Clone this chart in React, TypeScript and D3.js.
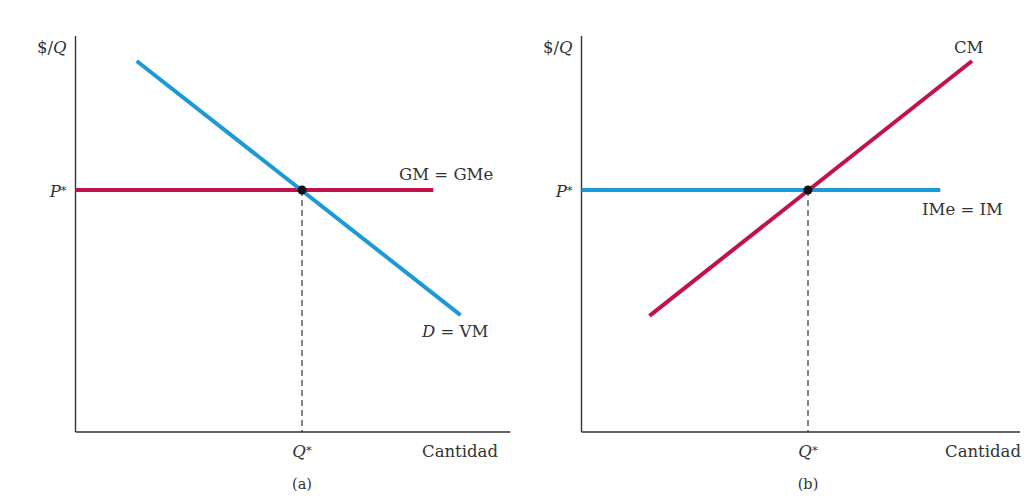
import React from "react";
import * as d3 from "d3";

// Equilibrium values (quantity Q*, price P*)
const qStar = 5;
const pStar = 6;

// Panel (a): demand for input D = VM and horizontal GM = GMe
const demandA = [
  { q: 1.35, p: 9.2 },
  { q: 8.5, p: 2.9 },
];
const supplyA = [
  { q: 0, p: 6 },
  { q: 7.9, p: 6 },
];

// Panel (b): rising CM and horizontal IMe = IM
const costB = [
  { q: 1.5, p: 2.88 },
  { q: 8.62, p: 9.2 },
];
const revenueB = [
  { q: 0, p: 6 },
  { q: 7.92, p: 6 },
];

const yMax = 9.82;

const BLUE = "#1b9ad7";
const RED = "#c2124b";
const INK = "#333";
const FONT = "'DejaVu Serif', 'Liberation Serif', serif";

type Pt = { q: number; p: number };

type PanelProps = {
  left: number;
  xMax: number;
  cantidadEnd: number;
  tag: string;
  lines: { data: Pt[]; color: string }[];
  labels: React.ReactNode;
};

function Panel({ left, xMax, cantidadEnd, tag, lines, labels }: PanelProps) {
  // 45.3 px per quantity unit in both panels
  const x = d3.scaleLinear().domain([0, 1]).range([left, left + 45.3]);
  const y = d3.scaleLinear().domain([0, yMax]).range([432, 36]);
  const line = d3
    .line<Pt>()
    .x((d) => x(d.q))
    .y((d) => y(d.p));

  return (
    <g>
      {/* axes */}
      <line x1={x(0)} y1={y(yMax)} x2={x(0)} y2={y(0)} stroke={INK} strokeWidth={1.4} />
      <line x1={x(0)} y1={y(0)} x2={x(xMax)} y2={y(0)} stroke={INK} strokeWidth={1.4} />
      {/* dashed drop line to Q* */}
      <line
        x1={x(qStar)}
        y1={y(pStar)}
        x2={x(qStar)}
        y2={y(0)}
        stroke="#222"
        strokeWidth={1.1}
        strokeDasharray="6,4"
      />
      {lines.map((l, i) => (
        <path key={i} d={line(l.data) || ""} fill="none" stroke={l.color} strokeWidth={4} />
      ))}
      <circle cx={x(qStar)} cy={y(pStar)} r={4.5} fill="#111" />
      <g fontFamily={FONT} fontSize={16.5} fill={INK}>
        <text x={x(0) - 9} y={53} textAnchor="end">
          $/<tspan fontStyle="italic">Q</tspan>
        </text>
        <text x={x(0) - 9} y={y(pStar) + 7} textAnchor="end">
          <tspan fontStyle="italic">P</tspan>
          <tspan fontSize={11.5} dy={-3}>*</tspan>
        </text>
        <text x={x(qStar)} y={457} textAnchor="middle">
          <tspan fontStyle="italic">Q</tspan>
          <tspan fontSize={11.5} dy={-3}>*</tspan>
        </text>
        <text x={cantidadEnd} y={457} textAnchor="end">
          Cantidad
        </text>
        <text x={x(qStar)} y={489} textAnchor="middle" fontSize={14.5}>
          {tag}
        </text>
        {labels}
      </g>
    </g>
  );
}

export default function App() {
  return (
    <svg
      width={1026}
      height={498}
      style={{ position: "absolute", left: 0, top: 0, background: "#fff" }}
    >
      <Panel
        left={75.5}
        xMax={9.6}
        cantidadEnd={498}
        tag="(a)"
        lines={[
          { data: supplyA, color: RED },
          { data: demandA, color: BLUE },
        ]}
        labels={
          <>
            <text x={399} y={180}>GM = GMe</text>
            <text x={422} y={337}>
              <tspan fontStyle="italic">D</tspan> = VM
            </text>
          </>
        }
      />
      <Panel
        left={581.5}
        xMax={9.68}
        cantidadEnd={1021}
        tag="(b)"
        lines={[
          { data: revenueB, color: BLUE },
          { data: costB, color: RED },
        ]}
        labels={
          <>
            <text x={954} y={53}>CM</text>
            <text x={922} y={215}>IMe = IM</text>
          </>
        }
      />
    </svg>
  );
}
